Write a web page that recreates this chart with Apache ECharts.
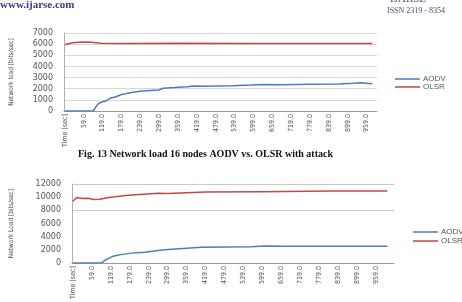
<!DOCTYPE html>
<html>
<head>
<meta charset="utf-8">
<script src="https://cdn.jsdelivr.net/npm/echarts@6/dist/echarts.min.js"></script>
<style>
	html, body { margin: 0; padding: 0; background: #fff; }
	#chart { width: 462px; height: 302px; }
</style>
</head>
<body>
<div id="chart"></div>
<script>
// time axis: header cell first, then one sample every 6 s
var timeCategories = ['Time [sec]']
for (var i = 1; i < 170; i++) {
	timeCategories.push((i * 6 - 1).toFixed(1))
}

// Fig. 13 (top) - 16 nodes, [categoryIndex, bits/sec]
var topAodv = [
	[0, 0], [15, 0], [17, 520], [18, 700], [20, 830], [22, 920], [24, 1150],
	[27, 1280], [30, 1480], [34, 1620], [37, 1700], [41, 1800], [47, 1860],
	[50, 1880], [52, 2040], [58, 2100], [65, 2180], [68, 2240], [75, 2220],
	[89, 2270], [99, 2330], [106, 2380], [115, 2360], [130, 2400], [145, 2430],
	[153, 2490], [157, 2540], [163, 2440]
]
var topOlsr = [
	[0, 5950], [1, 6080], [4, 6120], [9, 6190], [14, 6160], [19, 6070],
	[30, 6050], [60, 6080], [100, 6060], [130, 6050], [163, 6050]
]

// bottom chart
var bottomAodv = [
	[0, 0], [15, 0], [17, 450], [18, 690], [21, 1020], [26, 1320], [31, 1510],
	[38, 1660], [45, 1900], [50, 2050], [68, 2390], [94, 2490], [101, 2590],
	[111, 2540], [166, 2540]
]
var bottomOlsr = [
	[0, 9370], [2, 9950], [5, 9800], [8, 9850], [11, 9660], [14, 9700],
	[19, 9950], [28, 10240], [35, 10390], [45, 10590], [50, 10540],
	[70, 10780], [100, 10830], [136, 10930], [166, 10930]
]

var blue = '#4a7ebb'
var red = '#be4b48'
var labelFont = '"Liberation Sans Narrow", "DejaVu Sans Condensed", sans-serif'
var noLine = 'rgba(0,0,0,0)'

function makeXAxis(gridIndex, count) {
	return {
		type: 'category',
		gridIndex: gridIndex,
		data: timeCategories.slice(0, count),
		boundaryGap: true,
		axisLine: { lineStyle: { color: '#9a9a9a', width: 1 } },
		axisTick: { interval: 0, length: 2, lineStyle: { color: '#9a9a9a' } },
		axisLabel: {
			interval: 9,
			rotate: 90,
			fontSize: 7,
			margin: 3,
			color: '#555',
			fontFamily: labelFont,
		},
		splitLine: { show: false },
	}
}

function makeYAxis(gridIndex, max, interval, name, nameGap, lineColors) {
	return {
		type: 'value',
		gridIndex: gridIndex,
		min: 0,
		max: max,
		interval: interval,
		name: name,
		nameLocation: 'middle',
		nameRotate: 90,
		nameGap: nameGap,
		nameTextStyle: { fontSize: 6.5, color: '#444', fontFamily: labelFont },
		axisLine: { show: true, lineStyle: { color: '#b0b0b0' } },
		axisTick: { show: false },
		axisLabel: {
			fontSize: 8,
			color: '#555',
			margin: 11,
			fontFamily: 'DejaVu Sans, sans-serif',
			formatter: function (v) { return String(v) },
		},
		splitLine: { lineStyle: { color: lineColors, width: 1 } },
	}
}

function makeLegend(left, top, gap) {
	return {
		left: left,
		top: top,
		padding: 0,
		orient: 'vertical',
		icon: 'rect',
		itemWidth: 25,
		itemHeight: 1.5,
		itemGap: gap,
		data: ['AODV', 'OLSR'],
		textStyle: { fontSize: 8, color: '#555', padding: [0, 0, 0, -2] },
	}
}

var chartDom = document.getElementById('chart')
var myChart = echarts.init(chartDom, null, { renderer: 'canvas' })
var option = {
	animation: false,
	backgroundColor: '#fff',
	grid: [
		{ left: 57, top: 33, width: 320, height: 78 },
		{ left: 66, top: 184, width: 328, height: 82 },
	],
	xAxis: [makeXAxis(0, 166), makeXAxis(1, 170)],
	yAxis: [
		makeYAxis(0, 7000, 1000, 'Network load [bits/sec]', 49, ['#d8d8d8']),
		makeYAxis(1, 12000, 2000, 'Network Load [bits/sec]', 57,
			[noLine, noLine, noLine, noLine, '#c8c8c8', noLine, '#c8c8c8']),
	],
	legend: [makeLegend(395, 75, 0), makeLegend(413, 228, 1)],
	graphic: [
		{
			type: 'text', left: 0, top: 0,
			style: { text: 'www.ijarse.com', font: 'bold 11px "Liberation Serif", serif', fill: '#3b3b8a' },
		},
		{
			type: 'text', left: 390, top: -6,
			style: { text: 'IJARSE', font: '11px "Liberation Serif", serif', fill: '#4a4a7a' },
		},
		{
			type: 'text', left: 387, top: 7,
			style: { text: 'ISSN 2319 - 8354', font: '8px "Liberation Serif", serif', fill: '#4a4a7a' },
		},
		{
			type: 'text', left: 78, top: 149,
			style: {
				text: 'Fig. 13 Network load 16 nodes AODV vs. OLSR with attack',
				font: 'bold 10px "Liberation Serif", serif',
				fill: '#111',
			},
		},
	],
	series: [
		{
			name: 'AODV', type: 'line', xAxisIndex: 0, yAxisIndex: 0,
			symbol: 'none', data: topAodv,
			lineStyle: { color: blue, width: 1.5 }, itemStyle: { color: blue },
		},
		{
			name: 'OLSR', type: 'line', xAxisIndex: 0, yAxisIndex: 0,
			symbol: 'none', data: topOlsr,
			lineStyle: { color: red, width: 1.5 }, itemStyle: { color: red },
		},
		{
			name: 'AODV', type: 'line', xAxisIndex: 1, yAxisIndex: 1,
			symbol: 'none', data: bottomAodv,
			lineStyle: { color: blue, width: 1.5 }, itemStyle: { color: blue },
		},
		{
			name: 'OLSR', type: 'line', xAxisIndex: 1, yAxisIndex: 1,
			symbol: 'none', data: bottomOlsr,
			lineStyle: { color: red, width: 1.5 }, itemStyle: { color: red },
		},
	],
}

option && myChart.setOption(option)
</script>
</body>
</html>
